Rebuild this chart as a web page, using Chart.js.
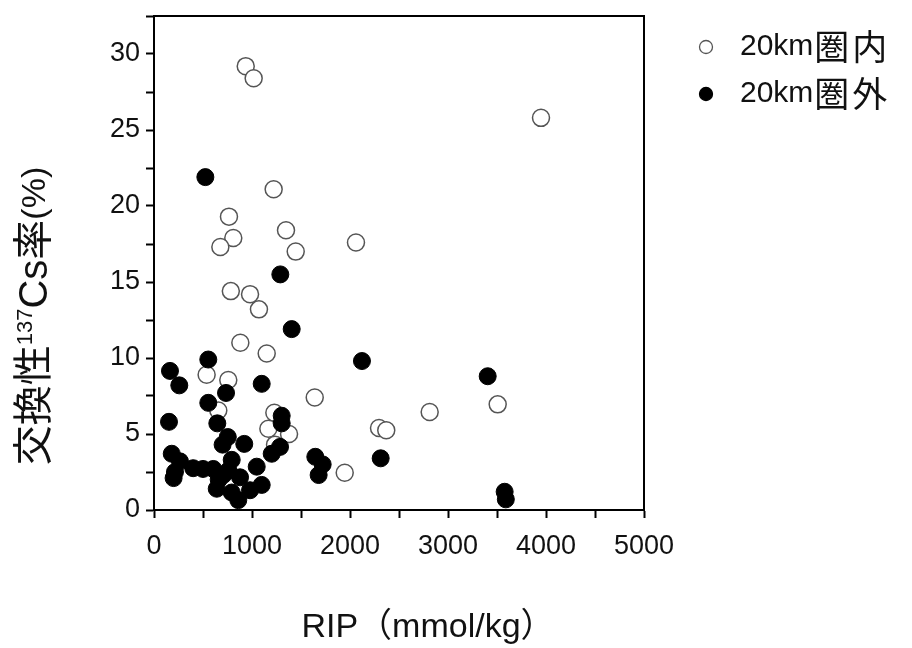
<!DOCTYPE html>
<html>
<head>
<meta charset="utf-8">
<script src="https://cdn.jsdelivr.net/npm/chart.js@4.4.1/dist/chart.umd.min.js"></script>
<style>
  html, body { margin: 0; padding: 0; background: #fff; }
  #wrap { width: 912px; height: 648px; }
</style>
</head>
<body>
<div id="wrap"><canvas id="c" width="912" height="648"></canvas></div>
<script>
// 20km圏内 (open circles): [RIP, exchangeable 137Cs %]
const insideRIP = [936, 1017, 3949, 1221, 765, 1347, 809, 677, 1446, 2061, 784, 980, 1071, 881, 1150,
  537, 758, 1640, 3507, 2813, 656, 1228, 2296, 2370, 1167, 1378, 1235, 1946]
const insideCs = [29.2, 28.4, 25.8, 21.1, 19.3, 18.4, 17.9, 17.3, 17.0, 17.6, 14.4, 14.2, 13.2, 11.0, 10.3,
  8.9, 8.55, 7.4, 6.95, 6.45, 6.55, 6.4, 5.4, 5.25, 5.35, 5.0, 4.3, 2.45]

// 20km圏外 (filled circles)
const outsideRIP = [524, 1289, 1405, 554, 2122, 163, 3405, 1099, 258, 735, 554, 1303, 1303, 153, 646,
  753, 700, 921, 1286, 1201, 181, 214, 265, 200, 400, 1646, 1721, 1680, 2313, 3578, 3590,
  1048, 793, 605, 707, 878, 640, 793, 860, 980, 1099, 500, 660, 760]
const outsideCs = [21.9, 15.5, 11.9, 9.9, 9.8, 9.15, 8.8, 8.3, 8.2, 7.7, 7.05, 6.2, 5.7, 5.8, 5.7,
  4.8, 4.3, 4.35, 4.15, 3.7, 3.7, 2.5, 3.2, 2.1, 2.75, 3.5, 3.0, 2.3, 3.4, 1.2, 0.7,
  2.85, 3.3, 2.7, 2.3, 2.15, 1.4, 1.15, 0.65, 1.3, 1.65, 2.7, 2.0, 2.6]

const seriesLabels = ['20km圏内', '20km圏外']
const xTitle = 'RIP（mmol/kg）'

const toPoints = (xs, ys) => xs.map((x, i) => ({ x: x, y: ys[i] }))

const numFont = "'Liberation Sans', Arial, sans-serif"
const jpFont = "'Liberation Sans', 'Noto Sans CJK JP', sans-serif"
const cjkFont = "'Noto Sans CJK JP', sans-serif"

// draws text split into latin / CJK runs (CJK a bit larger, like the original)
function drawMixed(ctx, text, x, y, latinSize, cjkSize) {
  const runs = text.match(/[\u3000-\u9fff\uff00-\uffef]+|[^\u3000-\u9fff\uff00-\uffef]+/g) || []
  runs.forEach(r => {
    const isCjk = /[\u3000-\u9fff]/.test(r)
    for (const ch of isCjk ? Array.from(r) : [r]) {
      ctx.font = isCjk ? cjkSize + 'px ' + cjkFont : latinSize + 'px ' + numFont
      ctx.fillText(ch, x, y)
      x += ctx.measureText(ch).width + (isCjk ? 3 : 1)
    }
  })
}

// box, axis titles and legend
const decor = {
  id: 'decor',
  afterDatasetsDraw(chart) {
    const ctx = chart.ctx
    const a = chart.chartArea
    ctx.save()
    ctx.strokeStyle = '#000'
    ctx.lineWidth = 2
    ctx.strokeRect(a.left, a.top, a.right - a.left, a.bottom - a.top)

    // x title
    ctx.fillStyle = '#111'
    ctx.font = '34px ' + jpFont
    ctx.textAlign = 'center'
    ctx.textBaseline = 'middle'
    ctx.fillText(xTitle, 428, 628)

    // y title, rotated, with superscript 137
    ctx.translate(36, 316)
    ctx.rotate(-Math.PI / 2)
    const parts = [
      { t: '交換性', f: '40px ' + jpFont, dy: 0 },
      { t: '137', f: '22px ' + numFont, dy: -10 },
      { t: 'Cs率', f: '40px ' + jpFont, dy: 0 },
      { t: '(%)', f: '34px ' + numFont, dy: 0 }
    ]
    let total = 0
    parts.forEach(p => { ctx.font = p.f; p.w = ctx.measureText(p.t).width; total += p.w })
    let x = -total / 2
    ctx.textAlign = 'left'
    parts.forEach(p => {
      ctx.font = p.f
      ctx.fillText(p.t, x, p.dy)
      x += p.w
    })
    ctx.restore()

    // legend
    ctx.save()
    const rows = [47, 94]
    chart.data.datasets.forEach((ds, i) => {
      ctx.beginPath()
      ctx.arc(706, rows[i], 6.5, 0, Math.PI * 2)
      ctx.fillStyle = ds.backgroundColor
      ctx.fill()
      ctx.lineWidth = 1.3
      ctx.strokeStyle = ds.borderColor
      ctx.stroke()
      ctx.fillStyle = '#111'
      ctx.textAlign = 'left'
      ctx.textBaseline = 'middle'
      drawMixed(ctx, ds.label, 740, rows[i], 30, 35)
    })
    ctx.restore()
  }
}

new Chart(document.getElementById('c'), {
  type: 'scatter',
  data: {
    datasets: [
      {
        label: seriesLabels[0],
        data: toPoints(insideRIP, insideCs),
        backgroundColor: '#fff',
        borderColor: '#555',
        borderWidth: 1.5,
        pointRadius: 8.5,
        order: 2
      },
      {
        label: seriesLabels[1],
        data: toPoints(outsideRIP, outsideCs),
        backgroundColor: '#000',
        borderColor: '#000',
        borderWidth: 1,
        pointRadius: 8.5,
        order: 1
      }
    ]
  },
  options: {
    responsive: false,
    animation: false,
    layout: { padding: { left: 0, top: 16, right: 268, bottom: 0 } },
    plugins: { legend: { display: false }, tooltip: { enabled: false } },
    scales: {
      x: {
        type: 'linear',
        min: 0,
        max: 5000,
        afterFit: s => { s.height = 138; s.paddingLeft = 0; s.paddingRight = 0 },
        border: { color: '#000', width: 2 },
        grid: { drawOnChartArea: false, tickLength: 8, tickWidth: 2, tickColor: '#000' },
        ticks: {
          stepSize: 500,
          autoSkip: false,
          maxRotation: 0,
          padding: 12,
          color: '#111',
          font: { size: 27, family: numFont },
          callback: v => (v % 1000 === 0 ? v : '')
        }
      },
      y: {
        type: 'linear',
        min: 0,
        max: 32.5,
        afterFit: s => { s.width = 154; s.paddingTop = 0; s.paddingBottom = 0 },
        border: { color: '#000', width: 2 },
        grid: { drawOnChartArea: false, tickLength: 8, tickWidth: 2, tickColor: '#000' },
        ticks: {
          stepSize: 2.5,
          autoSkip: false,
          padding: 6,
          color: '#111',
          font: { size: 27, family: numFont },
          callback: v => (v % 5 === 0 ? v : '')
        }
      }
    }
  },
  plugins: [decor]
})
</script>
</body>
</html>
